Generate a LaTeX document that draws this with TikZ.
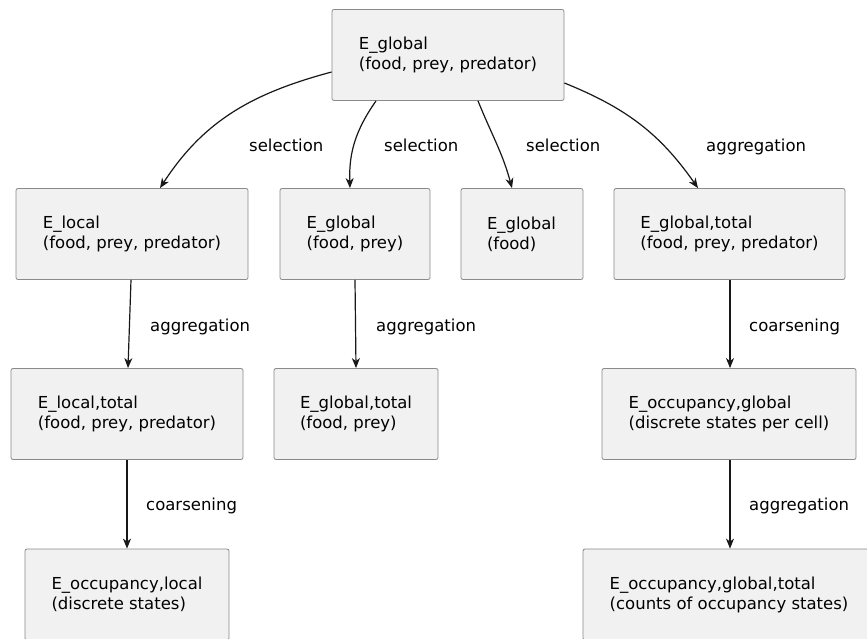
\documentclass[tikz,border=0pt]{standalone}
\usepackage{fontspec}
\setmainfont{DejaVu Sans}
\usetikzlibrary{arrows.meta}
\definecolor{boxfill}{HTML}{F1F1F1}
\definecolor{boxline}{HTML}{8A8A8A}
\definecolor{edgecol}{HTML}{181818}
\tikzset{
  box/.style={draw=boxline, fill=boxfill, line width=0.8pt, rounded corners=2pt,
    minimum height=91pt, inner xsep=0pt, inner ysep=0pt, align=left,
    font=\fontsize{16.5}{20}\selectfont, text=black},
  lbl/.style={anchor=base west, inner sep=0pt, font=\fontsize{16.5}{20}\selectfont, text=black},
  conn/.style={draw=edgecol, line width=1.2pt, -{Stealth[length=10pt,width=8pt,inset=3pt]}}
}
\begin{document}
\begin{tikzpicture}[x=1pt,y=-1pt]
\useasboundingbox (0,0) rectangle (867,638);
\clip (0,0) rectangle (867,638);
\fill[white] (0,0) rectangle (867,638);

\node[box, minimum width=232pt] (top) at (448,55) {E\_global\\(food, prey, predator)};

\node[box, minimum width=232pt] (loc) at (132,234) {E\_local\\(food, prey, predator)};
\node[box, minimum width=150pt] (gfp) at (355,234) {E\_global\\(food, prey)};
\node[box, minimum width=122pt, text width=70pt] (gf) at (522,234) {E\_global\\(food)};
\node[box, minimum width=231pt] (gt) at (729.5,234) {E\_global,total\\(food, prey, predator)};

\node[box, minimum width=232pt] (lt) at (127,414) {E\_local,total\\(food, prey, predator)};
\node[box, minimum width=164pt] (gtfp) at (356,414) {E\_global,total\\(food, prey)};
\node[box, minimum width=254pt] (og) at (729,414) {E\_occupancy,global\\(discrete states per cell)};

\node[box, minimum width=204pt] (ol) at (127,594.5) {E\_occupancy,local\\(discrete states)};
\node[box, minimum width=292pt] (ogt) at (729,594.5) {E\_occupancy,global,total\\(counts of occupancy states)};

% edges from top
\draw[conn] ([yshift=-17pt]top.west) to[out=195, in=57] ([xshift=28pt]loc.north);
\draw[conn] ([xshift=-72pt]top.south) to[out=-125, in=92] ([xshift=-5pt]gfp.north);
\draw[conn] ([xshift=30pt]top.south) to[out=-68, in=105] ([xshift=-10pt]gf.north);
\draw[conn] ([yshift=-28pt]top.east) to[out=-22, in=125] ([xshift=-31.5pt]gt.north);

% vertical edges
\draw[conn] ([xshift=-1pt]loc.south) -- ([xshift=1pt]lt.north);
\draw[conn] (gfp.south) -- (gtfp.north);
\draw[conn] ([xshift=0.5pt]gt.south) -- ([xshift=1pt]og.north);
\draw[conn] (lt.south) -- (ol.north);
\draw[conn] ([xshift=1pt]og.south) -- ([xshift=1pt]ogt.north);

% labels
\node[lbl] (l1) at (249,151) {selection};
\node[lbl] (l2) at (384,151) {selection};
\node[lbl] (l3) at (526,151) {selection};
\node[lbl] (l4) at (706,151) {aggregation};
\node[lbl] (l5) at (150,331) {aggregation};
\node[lbl] (l6) at (376,331) {aggregation};
\node[lbl] (l7) at (749,331) {coarsening};
\node[lbl] (l8) at (146,510) {coarsening};
\node[lbl] (l9) at (749,510) {aggregation};
\end{tikzpicture}
\end{document}
